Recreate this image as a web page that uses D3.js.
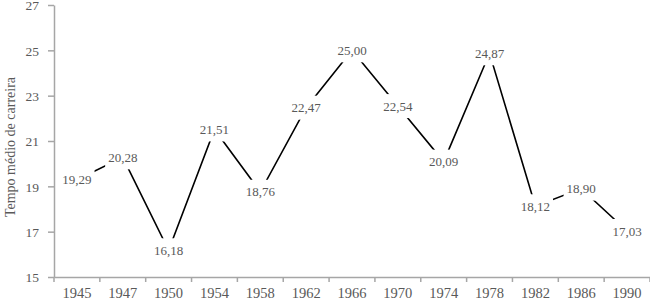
<!DOCTYPE html>
<html><head><meta charset="utf-8">
<script src="https://cdn.jsdelivr.net/npm/d3@7"></script>
<style>body{margin:0;background:#fff}svg{display:block}</style>
</head><body>
<svg id="c" width="650" height="300"></svg>
<script>
const years = ["1945","1947","1950","1954","1958","1962","1966","1970","1974","1978","1982","1986","1990"];
const values = [19.29,20.28,16.18,21.51,18.76,22.47,25.00,22.54,20.09,24.87,18.12,18.90,17.03];
const yTicks = [15,17,19,21,23,25,27];
const yTitle = "Tempo médio de carreira";

const svg = d3.select("#c");
const font = "'Liberation Serif','Times New Roman',serif";
const axisCol = "#a6a6a6", textCol = "#595959";
const mLeft = 54, mRight = 650, mTop = 5, mBottom = 277;

const x = d3.scaleBand().domain(years).range([mLeft, mRight]);
const y = d3.scaleLinear().domain([15, 27]).range([mBottom, mTop]);

// Y axis
const ya = svg.append("g").attr("transform", `translate(${mLeft},0)`)
  .call(d3.axisLeft(y).tickValues(yTicks).tickSize(6).tickSizeOuter(0).tickFormat(d3.format("d")));
ya.select(".domain").attr("stroke", axisCol).attr("stroke-width", 1.5);
ya.selectAll(".tick line").attr("stroke", axisCol).attr("stroke-width", 1.5);
ya.selectAll(".tick text").attr("fill", textCol).attr("font-family", font).attr("font-size", 13.5)
  .attr("x", -15).attr("dy", "0.36em");

// X axis
const xa = svg.append("g").attr("transform", `translate(0,${mBottom})`)
  .call(d3.axisBottom(x).tickSize(0).tickSizeOuter(0));
xa.select(".domain").attr("stroke", axisCol).attr("stroke-width", 1.5);
xa.selectAll(".tick text").attr("fill", textCol).attr("font-family", font).attr("font-size", 14.5)
  .attr("y", 21).attr("dy", 0);
const bounds = years.map(d => x(d)).concat([x(years[years.length-1]) + x.step()]);
xa.selectAll("line.bt").data(bounds).join("line").attr("class","bt")
  .attr("x1", d => d).attr("x2", d => d).attr("y1", 0).attr("y2", 5)
  .attr("stroke", axisCol).attr("stroke-width", 1.5);

// Y title
svg.append("text").attr("transform", `translate(15,${(mTop+mBottom)/2 + 6}) rotate(-90)`)
  .attr("text-anchor", "middle").attr("font-family", font).attr("font-size", 14)
  .attr("fill", textCol).text(yTitle);

// Line
const pts = years.map((d, i) => [x(d) + x.bandwidth()/2, y(values[i])]);
svg.append("path").attr("d", d3.line()(pts)).attr("fill", "none")
  .attr("stroke", "#000").attr("stroke-width", 1.6);

// Labels with white boxes
const fmt = v => v.toFixed(2).replace(".", ",");
const lg = svg.append("g");
pts.forEach((p, i) => {
  const g = lg.append("g").attr("transform", `translate(${p[0]},${p[1]})`);
  const r = g.append("rect").attr("fill", "#fff");
  const t = g.append("text").attr("text-anchor", "middle").attr("dy", "0.35em")
    .attr("font-family", font).attr("font-size", 13).attr("fill", textCol).text(fmt(values[i]));
  const w = t.node().getComputedTextLength();
  r.attr("x", -w/2 - 3).attr("width", w + 6).attr("y", -12).attr("height", 24);
});
</script>
</body></html>
